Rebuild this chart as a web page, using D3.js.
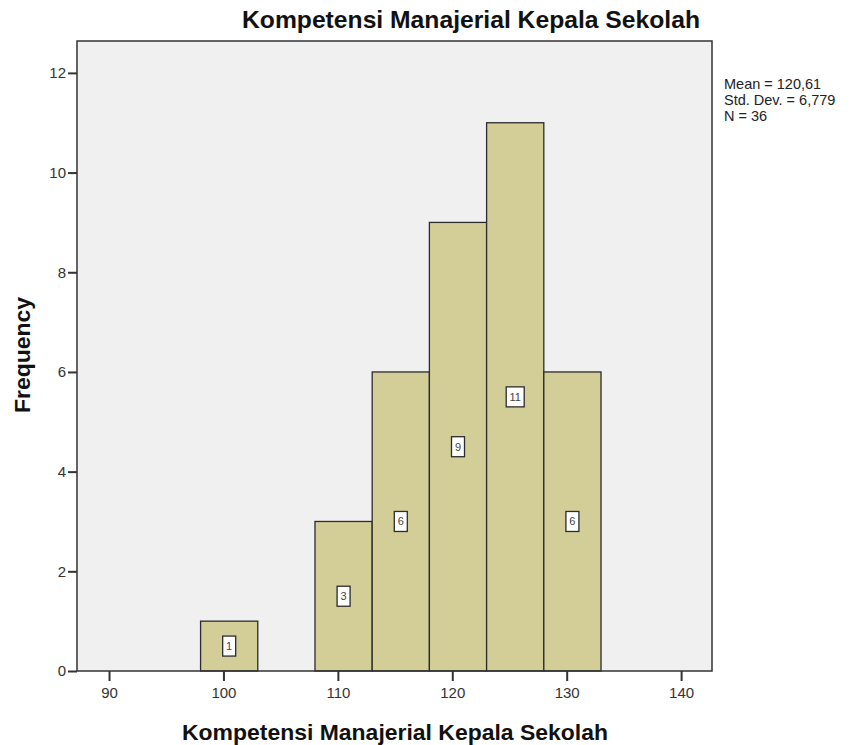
<!DOCTYPE html>
<html>
<head>
<meta charset="utf-8">
<script src="https://cdn.jsdelivr.net/npm/d3@7"></script>
<style>
  body { margin: 0; background: #fff; }
  text { font-family: "Liberation Sans", Arial, sans-serif; }
</style>
</head>
<body>
<div id="chart"></div>
<script>
// Histogram bins (lower edge, upper edge) and counts
const binStart = [98, 108, 113, 118, 123, 128];
const binEnd = [103, 113, 118, 123, 128, 133];
const counts = [1, 3, 6, 9, 11, 6];
const xTicks = [90, 100, 110, 120, 130, 140];
const yTicks = [0, 2, 4, 6, 8, 10, 12];
const statLines = ['Mean = 120,61', 'Std. Dev. = 6,779', 'N = 36'];

const W = 854, H = 745;
const plot = { left: 77, top: 41, right: 712, bottom: 671 };

const svg = d3.select('#chart').append('svg')
    .attr('width', W)
    .attr('height', H);

const x = d3.scaleLinear().domain([87.2, 142.7]).range([plot.left, plot.right]);
const y = d3.scaleLinear().domain([0, 12.64]).range([plot.bottom, plot.top]);

// Plot background
svg.append('rect')
    .attr('x', plot.left)
    .attr('y', plot.top)
    .attr('width', plot.right - plot.left)
    .attr('height', plot.bottom - plot.top)
    .attr('fill', '#f0f0f0');

const bins = counts.map((c, i) => ({ x0: binStart[i], x1: binEnd[i], n: c }));

svg.selectAll('.bar')
    .data(bins)
    .join('rect')
    .attr('class', 'bar')
    .attr('x', d => x(d.x0))
    .attr('y', d => y(d.n))
    .attr('width', d => x(d.x1) - x(d.x0))
    .attr('height', d => y(0) - y(d.n))
    .attr('fill', '#d3ce97')
    .attr('stroke', '#2b2b2b')
    .attr('stroke-width', 1.3);

// Count labels in boxes
const lab = svg.selectAll('.count')
    .data(bins)
    .join('g')
    .attr('class', 'count')
    .attr('transform', d => `translate(${x((d.x0 + d.x1) / 2)},${y(d.n / 2)})`);

lab.append('rect')
    .attr('x', d => d.n >= 10 ? -9 : -6.5)
    .attr('y', -10)
    .attr('width', d => d.n >= 10 ? 18 : 13)
    .attr('height', 20)
    .attr('fill', '#fff')
    .attr('stroke', '#2b2b2b')
    .attr('stroke-width', 1.3);

lab.append('text')
    .attr('text-anchor', 'middle')
    .attr('dy', '0.35em')
    .style('font-size', '11px')
    .attr('fill', '#444')
    .text(d => d.n);

// Frame
svg.append('rect')
    .attr('x', plot.left)
    .attr('y', plot.top)
    .attr('width', plot.right - plot.left)
    .attr('height', plot.bottom - plot.top)
    .attr('fill', 'none')
    .attr('stroke', '#333')
    .attr('stroke-width', 1.5);

// Axes
const xAxis = svg.append('g')
    .attr('transform', `translate(0,${plot.bottom})`)
    .call(d3.axisBottom(x).tickValues(xTicks).tickSize(10).tickPadding(6));

const yAxis = svg.append('g')
    .attr('transform', `translate(${plot.left},0)`)
    .call(d3.axisLeft(y).tickValues(yTicks).tickSize(9).tickPadding(2));

[xAxis, yAxis].forEach(g => {
    g.select('.domain').remove();
    g.selectAll('.tick line').attr('stroke', '#333').attr('stroke-width', 2);
    g.selectAll('.tick text')
        .attr('fill', '#333')
        .style('font-size', '15px')
        .style('font-family', '"Liberation Sans", Arial, sans-serif');
});

// Titles
svg.append('text')
    .attr('x', 471)
    .attr('y', 28)
    .attr('text-anchor', 'middle')
    .style('font-size', '24px')
    .style('font-weight', 'bold')
    .attr('fill', '#111')
    .attr('textLength', 458)
    .attr('lengthAdjust', 'spacingAndGlyphs')
    .text('Kompetensi Manajerial Kepala Sekolah');

svg.append('text')
    .attr('x', 395)
    .attr('y', 740)
    .attr('text-anchor', 'middle')
    .style('font-size', '22px')
    .style('font-weight', 'bold')
    .attr('fill', '#111')
    .attr('textLength', 426)
    .attr('lengthAdjust', 'spacingAndGlyphs')
    .text('Kompetensi Manajerial Kepala Sekolah');

svg.append('text')
    .attr('transform', 'translate(30,355) rotate(-90)')
    .attr('text-anchor', 'middle')
    .style('font-size', '22px')
    .style('font-weight', 'bold')
    .attr('fill', '#111')
    .attr('textLength', 116)
    .attr('lengthAdjust', 'spacingAndGlyphs')
    .text('Frequency');

// Stats
svg.append('g')
    .selectAll('text')
    .data(statLines)
    .join('text')
    .attr('x', 724)
    .attr('y', (d, i) => 89 + i * 16)
    .style('font-size', '14.5px')
    .attr('fill', '#222')
    .text(d => d);
</script>
</body>
</html>
